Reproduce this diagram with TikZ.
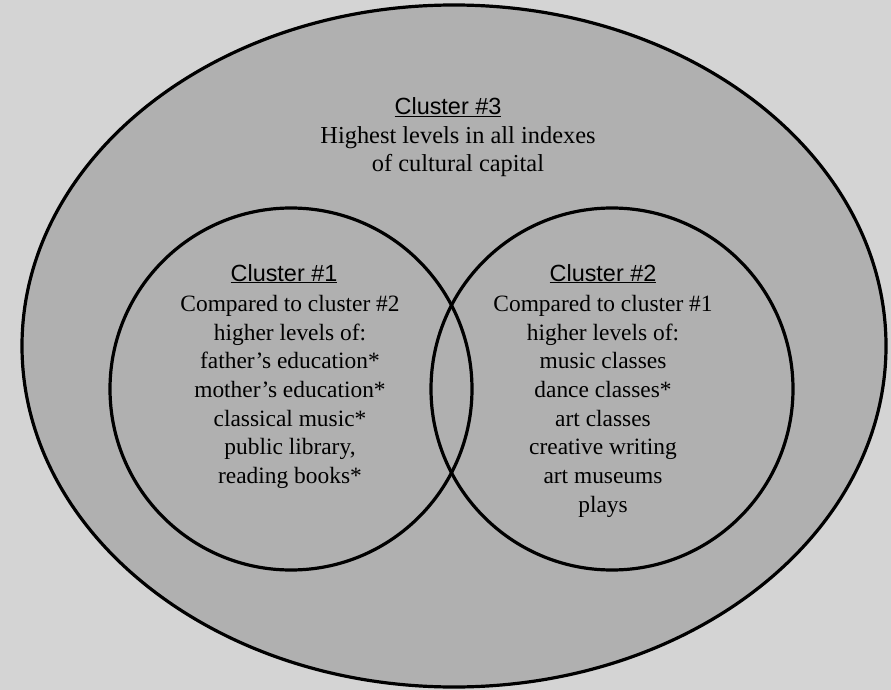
\documentclass[tikz,border=0pt]{standalone}
\usepackage{fontspec}
\setmainfont{Liberation Serif}
\setsansfont{Liberation Sans}
\usetikzlibrary{shapes.geometric}

\begin{document}
\begin{tikzpicture}[x=1bp, y=-1bp]
    \tikzstyle{rim} = [draw, line width=3.2bp, inner sep=0pt]
    \tikzstyle{heading} = [font=\sffamily\fontsize{23.5}{28}\selectfont, anchor=base, inner sep=0pt]
    \tikzstyle{items} = [font=\fontsize{23.5}{28.8}\selectfont, align=center, anchor=north, inner sep=0pt]
    \fill[black!17] (0,0) rectangle (891,690);
    \useasboundingbox (0,0) rectangle (891,690);
    \node[rim, ellipse, fill=black!31, minimum width=864bp, minimum height=682bp] (c3) at (454,346) {};
    \foreach \id/\cx in {c1/291, c2/612} {
        \node[rim, circle, minimum size=362bp] (\id) at (\cx,389) {};
    }
    % cluster texts
    \node[heading] (t3) at (448,115) {\underline{Cluster \#3}};
    \node[items, font=\fontsize{24.5}{28}\selectfont] (b3) at (458,126) {Highest levels in all indexes\\of cultural capital};
    \node[heading] (t1) at (284,281) {\underline{Cluster \#1}};
    \node[items] (b1) at (290,295) {Compared to cluster \#2\\higher levels of:\\father’s education*\\mother’s education*\\classical music*\\public library,\\reading books*};
    \node[heading] (t2) at (603,281) {\underline{Cluster \#2}};
    \node[items] (b2) at (603,295) {Compared to cluster \#1\\higher levels of:\\music classes\\dance classes*\\art classes\\creative writing\\art museums\\plays};
\end{tikzpicture}
\end{document}
